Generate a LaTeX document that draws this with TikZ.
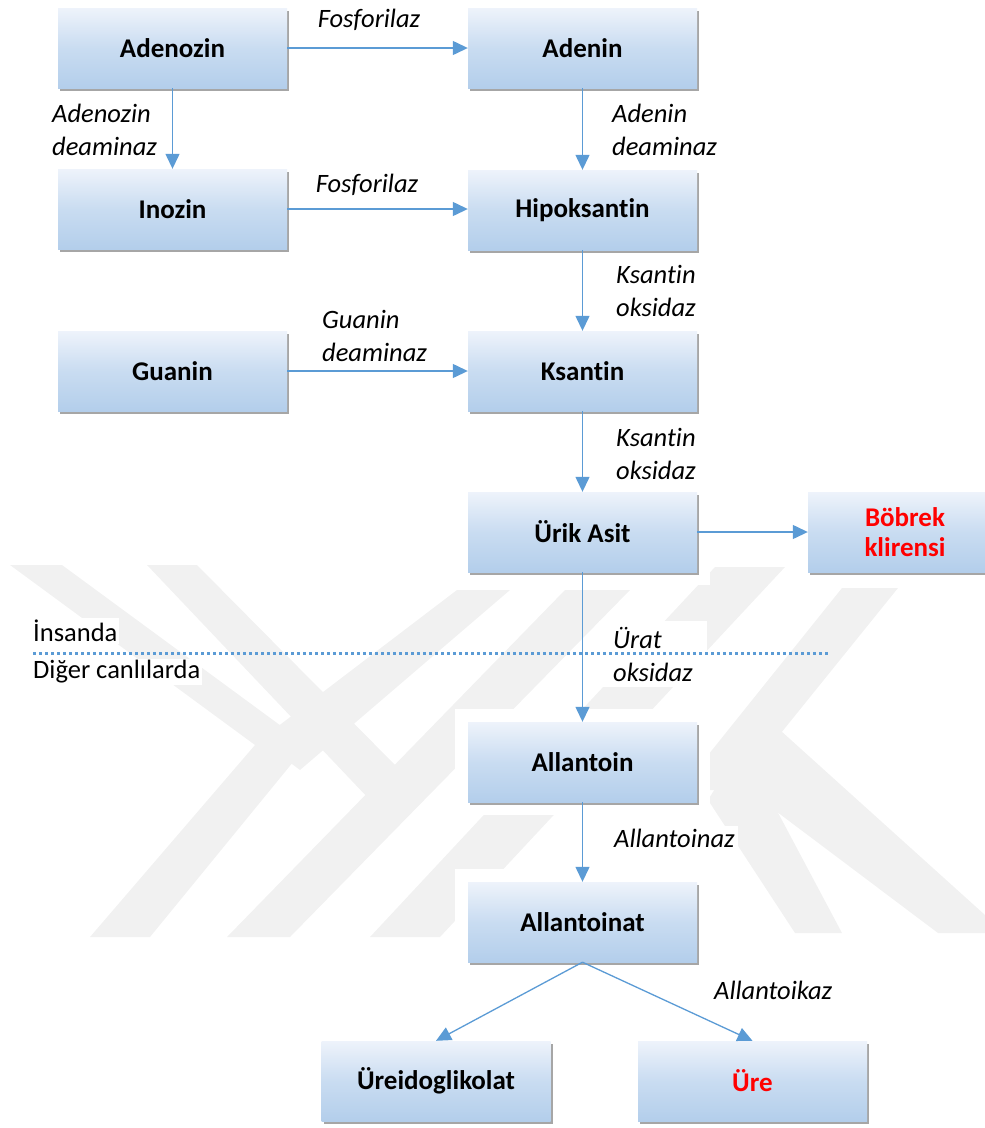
\documentclass[tikz,border=0pt]{standalone}
\usepackage{fontspec}
\setmainfont{Carlito}[Ligatures=NoCommon]
\usetikzlibrary{arrows.meta,shadows}
\definecolor{arr}{HTML}{5B9BD5}
\definecolor{btop}{HTML}{EEF3FB}
\definecolor{bmid}{HTML}{C9DCF1}
\definecolor{bbot}{HTML}{B3CEEB}
\definecolor{wmc}{HTML}{F1F1F1}
\definecolor{redt}{HTML}{FF0000}
\pgfdeclarelayer{wmark}
\pgfdeclarelayer{back}
\pgfsetlayers{wmark,back,main}
\begin{document}
\begin{tikzpicture}[x=1pt,y=-1pt,
  box/.style={rectangle, minimum width=229pt, minimum height=80pt, inner sep=0pt,
    top color=btop, bottom color=bbot, middle color=bmid,
    font=\fontsize{27}{30}\selectfont\bfseries, align=center,
    drop shadow={shadow xshift=2pt, shadow yshift=-3pt, fill=black, opacity=0.35}},
  lab/.style={font=\fontsize{26.5}{33}\selectfont\itshape, fill=white, align=left, inner sep=3pt, anchor=west},
  side/.style={font=\fontsize{26.5}{30}\selectfont, fill=white, inner sep=2pt, anchor=west},
  arrw/.style={draw=arr, line width=1.3pt, -{Triangle[length=15pt,width=14pt]}},
  wmk/.style={fill=wmc}]
\useasboundingbox (0,0) rectangle (985,1128);

% watermark
\begin{pgfonlayer}{wmark}
\fill[wmk] (10,565) -- (62,565) -- (307,745) -- (150,937) -- (90,937) -- (255,745) -- cycle;
\fill[wmk] (457,590) -- (510,590) -- (300,770) -- (260,740) -- cycle;
\fill[wmk] (147,565) -- (197,565) -- (400,770) -- (370,800) -- cycle;
\fill[wmk] (227,937) -- (290,937) -- (630,590) -- (565,590) -- cycle;
\fill[wmk] (370,937) -- (440,937) -- (785,567) -- (715,567) -- cycle;
\fill[wmk] (842,588) -- (898,588) -- (735,790) -- (680,790) -- cycle;
\fill[wmk] (708,760) -- (760,712) -- (985,915) -- (985,933) -- (938,933) -- cycle;
\fill[wmk] (708,800) -- (742,745) -- (842,933) -- (795,933) -- cycle;
\end{pgfonlayer}

% boxes
\node[box] (adenozin) at (172.5,48) {Adenozin};
\node[box] (adenin) at (582.5,48) {Adenin};
\node[box] (inozin) at (172.5,209) {Inozin};
\node[box] (hipo) at (582.5,210) {Hipoksantin};
\node[box] (guanin) at (172.5,371) {Guanin};
\node[box] (ksantin) at (582.5,371) {Ksantin};
\node[box] (urik) at (582.5,532) {Ürik Asit};
\node[box, minimum width=194pt, text=redt] (bobrek) at (905,532) {Böbrek\\klirensi};
\node[box] (allantoin) at (582.5,762) {Allantoin};
\node[box] (allantoinat) at (582.5,922) {Allantoinat};
\node[box] (ureido) at (436,1081) {Üreidoglikolat};
\node[box, text=redt] (ure) at (752.5,1081) {Üre};

\begin{pgfonlayer}{back}
\foreach \n in {adenozin,adenin,inozin,hipo,guanin,ksantin,urik,bobrek,allantoin,allantoinat,ureido,ure}
  \fill[white] ([xshift=-13pt,yshift=13pt]\n.north west) rectangle ([xshift=13pt,yshift=-13pt]\n.south east);
\end{pgfonlayer}

% labels
\node[lab, anchor=center] (l1) at (369,20) {Fosforilaz};
\node[lab, anchor=center] (l2) at (367,185) {Fosforilaz};
\node[lab] (l3) at (49,130) {Adenozin\\deaminaz};
\node[lab] (l4) at (609,130) {Adenin\\deaminaz};
\node[lab] (l5) at (613,291) {Ksantin\\oksidaz};
\node[lab] (l6) at (319,336) {Guanin\\deaminaz};
\node[lab] (l7) at (613,454) {Ksantin\\oksidaz};
\node[lab, inner xsep=14pt, inner ysep=6pt] (l8) at (599,654) {Ürat\\oksidaz};
\node[lab] (l9) at (611,838) {Allantoinaz};
\node[lab] (l10) at (711,990) {Allantoikaz};
\node[side] (ins) at (31,631) {İnsanda};
\node[side] (dig) at (31,672) {Diğer canlılarda};

% arrows
\draw[arrw] (adenozin) -- (adenin);
\draw[arrw] (adenozin) -- (inozin);
\draw[arrw] (inozin) -- (hipo.west |- inozin);
\draw[arrw] (adenin) -- (hipo);
\draw[arrw] (hipo) -- (ksantin);
\draw[arrw] (guanin) -- (ksantin);
\draw[arrw] (ksantin) -- (urik);
\draw[arrw] (urik) -- (bobrek);
\draw[arrw] (urik) -- (allantoin);
\draw[arrw] (allantoin) -- (allantoinat);
\draw[arrw] (allantoinat.south) -- (ureido.north);
\draw[arrw] (allantoinat.south) -- (ure.north);

% divider
\coordinate (dl) at (33,653);
\coordinate (dr) at (830,653);
\draw[arr, line width=3pt, dash pattern=on 3pt off 3pt] (dl) -- (dr);
\end{tikzpicture}
\end{document}
